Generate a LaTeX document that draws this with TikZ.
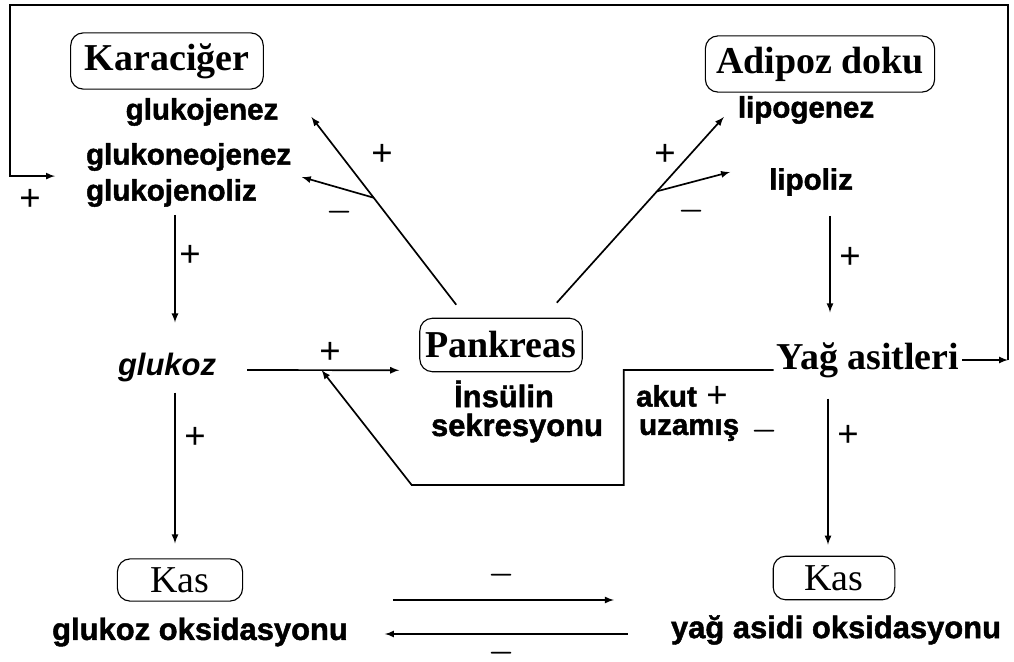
\documentclass[tikz,border=0pt]{standalone}
\usepackage{fontspec}
\setmainfont{Liberation Serif}
\setsansfont{Liberation Sans}[BoldFeatures={FakeBold=1.5}]
\usetikzlibrary{calc}
\begin{document}
\begin{tikzpicture}[x=0.025cm,y=-0.025cm,
    organ/.style={draw,line width=0.8pt,rounded corners=9pt,inner sep=0pt,font=\bfseries\fontsize{27}{28}\selectfont},
    muscle/.style={organ,font=\fontsize{27}{28}\selectfont},
    proc/.style={inner sep=2pt,font=\sffamily\bfseries\fontsize{21}{22}\selectfont},
    sign/.style={inner sep=0pt,font=\sffamily\fontsize{26}{26}\selectfont},
    negsign/.style={inner sep=0pt,font=\boldmath\fontsize{20}{20}\selectfont},
    arr/.style={-latex,line width=1.2pt}]
  \useasboundingbox (0,0) rectangle (1014,662);
  \node[organ,minimum width=137pt,minimum height=40pt] (kar) at (167,61) {Karaciğer};
  \node[organ,minimum width=163pt,minimum height=40pt] (adi) at (820,64) {Adipoz doku};
  \node[organ,minimum width=115.5pt,minimum height=38pt] (pank) at (501,345) {Pankreas};
  \node[muscle,minimum width=89pt,minimum height=30pt] (kasL) at (180,580) {Kas};
  \node[muscle,minimum width=86.5pt,minimum height=31pt] (kasR) at (834,578) {Kas};
  \node[proc] (gjen) at (202,112) {glukojenez};
  \node[proc,anchor=west] (gneo) at (83,157) {glukoneojenez};
  \node[proc,anchor=west] (glis) at (83,193) {glukojenoliz};
  \node[proc] (lipg) at (806,110) {lipogenez};
  \node[proc] (lipl) at (811,182) {lipoliz};
  \node[proc,font=\sffamily\bfseries\itshape\fontsize{22}{23}\selectfont] (glk) at (167,368) {glukoz};
  \node[proc,font=\sffamily\bfseries\fontsize{22}{23}\selectfont] (ins) at (504,394) {İnsülin};
  \node[proc,font=\sffamily\bfseries\fontsize{22}{23}\selectfont] (sek) at (517,428) {sekresyonu};
  \node[inner sep=2pt,font=\bfseries\fontsize{27}{28}\selectfont] (yag) at (868,360) {Yağ asitleri};
  \node[proc,anchor=west] (akut) at (633,396) {akut};
  \node[proc,anchor=west] (uzm) at (636,430) {uzamış};
  \node[proc,font=\sffamily\bfseries\fontsize{22}{23}\selectfont] (goks) at (200,632) {glukoz oksidasyonu};
  \node[proc,font=\sffamily\bfseries\fontsize{22}{23}\selectfont] (yoks) at (836,630) {yağ asidi oksidasyonu};
  \node[sign] (s1) at (30,200) {+};
  \node[sign] (s2) at (382,155) {+};
  \node[negsign] (s3) at (340,212) {$-$};
  \node[sign] (s4) at (665,155) {+};
  \node[negsign] (s5) at (692,211) {$-$};
  \node[sign] (s6) at (190,256) {+};
  \node[sign] (s7) at (850,258) {+};
  \node[sign] (s8) at (330,353) {+};
  \node[sign] (s9) at (717,397) {+};
  \node[negsign] (s10) at (765,431) {$-$};
  \node[sign] (s11) at (848,436) {+};
  \node[sign] (s12) at (195,438) {+};
  \node[negsign] (s13) at (502,575) {$-$};
  \node[negsign] (s14) at (502,653) {$-$};
  \coordinate (cR) at (1008,5);
  \coordinate (cL) at (10,5);
  \coordinate (pL) at ($(pank.north west)+(37,-13)$);
  \coordinate (pR) at ($(pank.north east)+(-26,-15)$);
  \draw[arr] (pL) -- coordinate[pos=0.57] (bL) ($(gjen.east)+(30,5)$);
  \draw[arr] (bL) -- ($(glis.north east)+(42,1)$);
  \draw[arr] (pR) -- coordinate[pos=0.6] (bR) ($(lipg.west)+(-11,7)$);
  \draw[arr] (bR) -- ($(lipl.west)+(-36,-10)$);
  \draw[arr] ($(glis.south -| glk.north)+(8,5)$) -- ($(glk.north)+(8,-28)$);
  \draw[arr] ($(glk.south)+(8,7)$) -- ($(kasL.north)+(-5,-15)$);
  \draw[arr] ($(lipl.south)+(19,17)$) -- ($(yag.north)+(-38,-27)$);
  \draw[arr] ($(yag.south)+(-40,18)$) -- ($(kasR.north)+(-6,-11)$);
  \draw[arr] ($(glk.east)+(28,2)$) -- coordinate[pos=0.49] (mG) ($(pank.south west)+(-20,-2)$);
  \draw[arr] ($(yag.west)+(0,10)$) -- ++(-150,0) -- ++(0,115) -- ++(-212,0) -- (mG);
  \draw[arr] (yag.east) -- (yag.east -| cR);
  \draw[arr] (yag.east -| cR) -- (cR) -- (cL) |- ($(glis.north west)+(-28,0)$);
  \draw[arr] ($(goks.east)+(42,-32)$) -- ($(yoks.west)+(-54,-30)$);
  \draw[arr] ($(yoks.west)+(-40,4)$) -- ($(goks.east)+(34,2)$);
\end{tikzpicture}
\end{document}
